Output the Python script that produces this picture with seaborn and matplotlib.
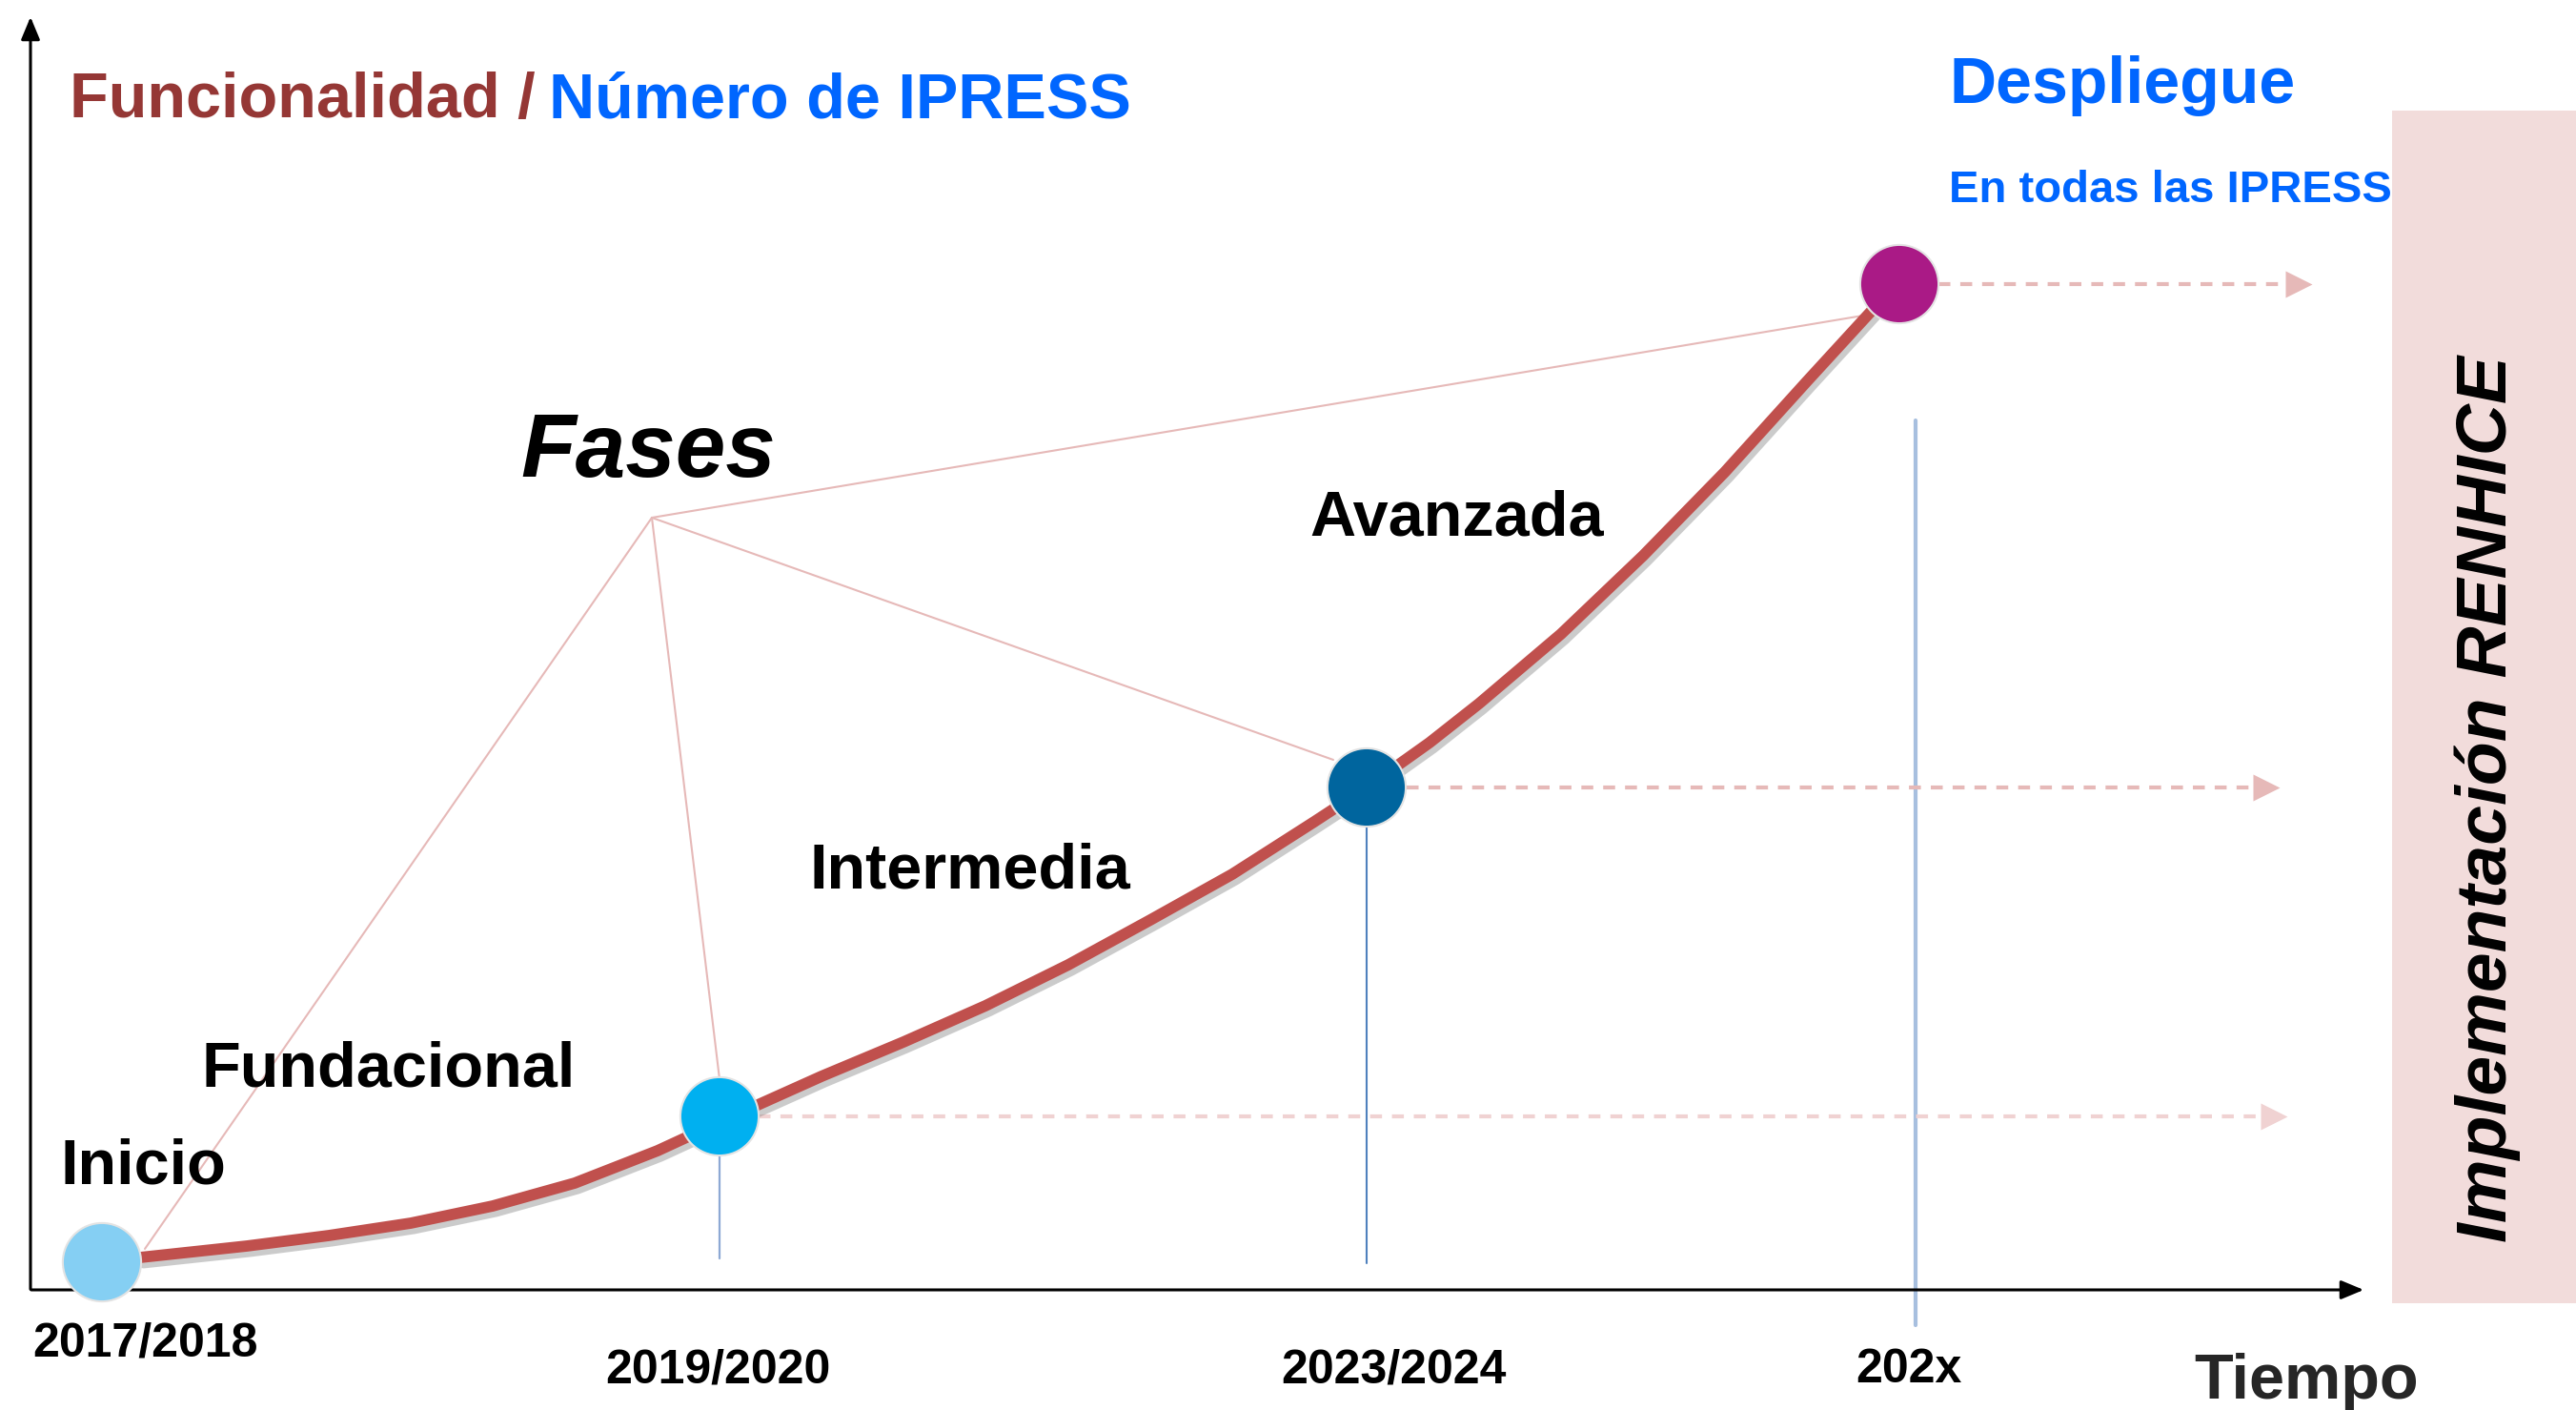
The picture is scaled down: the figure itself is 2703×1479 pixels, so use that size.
import matplotlib
matplotlib.use("Agg")
import matplotlib.pyplot as plt
import matplotlib.patheffects as pe
import seaborn as sns

# stage points (x: time, y: functionality), units
stages = ["Inicio", "Fundacional", "Intermedia", "Avanzada"]
stage_x = [0.76, 7.24, 14.03, 19.62]
stage_y = [0.29, 1.82, 5.27, 10.55]
stage_colors = ["#85CFF3", "#00B0F0", "#00659E", "#AA1A86"]

# growth curve read along its path
curve_x = [1.16, 2.28, 3.14, 4.00, 4.86, 5.72, 6.59, 7.24, 8.31, 9.17, 10.03, 10.90,
           11.76, 12.62, 13.48, 14.03, 14.69, 15.21, 16.07, 16.93, 17.79, 18.65, 19.43]
curve_y = [0.34, 0.46, 0.57, 0.70, 0.88, 1.12, 1.46, 1.76, 2.24, 2.60, 2.98, 3.41,
           3.88, 4.36, 4.91, 5.27, 5.74, 6.15, 6.88, 7.70, 8.58, 9.53, 10.38]

# time labels
tick_labels = ["2017/2018", "2019/2020", "2023/2024", "202x"]
tick_x = [1.21, 7.22, 14.31, 19.72]
tick_y = [-0.57, -0.84, -0.84, -0.84]

# stage label anchors (left, baseline)
label_x = [0.33, 1.81, 8.19, 13.43]
label_y = [1.11, 2.14, 4.22, 7.92]

# "Fases" connector: apex and ends on each stage marker
fases_apex = (6.53, 8.10)
fases_end_x = [1.21, 7.24, 13.68, 19.30]
fases_end_y = [0.43, 2.21, 5.56, 10.23]

# dashed arrows to the right
dash_start = [7.65, 14.45, 20.03]
dash_end = [23.65, 23.57, 23.91]
dash_y = [1.82, 5.27, 10.55]
dash_colors = ["#F0D2D2", "#E6B9B8", "#E6B9B8"]

# vertical drop lines
drop_x = [7.24, 14.03, 19.79]
drop_top = [1.42, 4.86, 9.12]
drop_bottom = [0.33, 0.28, -0.37]
drop_colors = ["#8DA9D4", "#4F81BD", "#A7BFDF"]
drop_widths = [1.6, 1.5, 3.0]

sns.set_theme(style="white")
plt.rcParams["font.family"] = ["Liberation Sans", "DejaVu Sans"]

fig = plt.figure(figsize=(27.03, 14.79), dpi=100)
ax = fig.add_axes([0, 0, 1, 1])
ax.set_xlim(-0.31, 26.72)
ax.set_ylim(-1.26, 13.53)
ax.axis("off")

# pink band on the right
ax.add_patch(plt.Rectangle((24.79, -0.14), 2.0, 12.51, color="#F2DCDB", lw=0, zorder=0))

# axes arrows
ax.annotate("", xy=(0.01, 13.38), xytext=(0.01, -0.02),
            arrowprops=dict(arrowstyle="-|>,head_length=1.2,head_width=0.5", color="black", lw=2.2))
ax.annotate("", xy=(24.52, 0.0), xytext=(-0.01, 0.0),
            arrowprops=dict(arrowstyle="-|>,head_length=1.2,head_width=0.5", color="black", lw=2.2))

# fases connector lines
for ex, ey in zip(fases_end_x, fases_end_y):
    ax.plot([fases_apex[0], ex], [fases_apex[1], ey], color="#E6B9B8", lw=1.5, zorder=1)

# drop lines
for x, t, b, c, w in zip(drop_x, drop_top, drop_bottom, drop_colors, drop_widths):
    ax.plot([x, x], [b, t], color=c, lw=w, zorder=1)

# dashed arrows
for s, e, y, c in zip(dash_start, dash_end, dash_y, dash_colors):
    ax.plot([s, e - 0.2], [y, y], color=c, lw=3, ls=(0, (3, 2.5)), zorder=1)
    ax.plot([e - 0.1], [y], marker=">", ms=20, color=c, mec="none", zorder=1)

# growth curve
sns.lineplot(x=curve_x, y=curve_y, ax=ax, color="#C0504D", lw=8.5, zorder=2,
             solid_capstyle="round", solid_joinstyle="round",
             path_effects=[pe.SimpleLineShadow(offset=(2.5, -4), shadow_color="#7F7F7F", alpha=0.4),
                           pe.Normal()])

# stage markers
sns.scatterplot(x=stage_x, y=stage_y, hue=stages, palette=stage_colors, s=3500,
                edgecolor="#E3E3E3", linewidth=1.5, legend=False, ax=ax, zorder=3)

# stage labels
for name, x, y in zip(stages, label_x, label_y):
    ax.text(x, y, name, fontsize=48, fontweight="bold", color="black", ha="left", va="baseline")

# time tick labels
for t, x, y in zip(tick_labels, tick_x, tick_y):
    ax.text(x, y, t, fontsize=36, fontweight="bold", color="black", ha="center", va="center")
ax.text(22.71, -1.14, "Tiempo", fontsize=48, fontweight="bold", ha="left", va="baseline")

# titles
ax.text(0.42, 12.30, "Funcionalidad /", fontsize=48, fontweight="bold", color="#953735",
        ha="left", va="baseline")
ax.text(5.45, 12.30, "Número de IPRESS", fontsize=48, fontweight="bold", color="#0066FF",
        ha="left", va="baseline")
ax.text(20.15, 12.45, "Despliegue", fontsize=49, fontweight="bold", color="#0066FF",
        ha="left", va="baseline")
ax.text(20.14, 11.41, "En todas las IPRESS", fontsize=34, fontweight="bold", color="#0066FF",
        ha="left", va="baseline")
ax.text(fases_apex[0] - 0.04, 8.53, "Fases", fontsize=68, fontweight="bold", fontstyle="italic",
        color="black", ha="center", va="baseline")
ax.text(25.79, 5.15, "Implementación RENHICE", fontsize=54, fontweight="bold", fontstyle="italic",
        color="black", rotation=90, ha="center", va="center")

fig.savefig("out.png", dpi=100)
plt.close(fig)
